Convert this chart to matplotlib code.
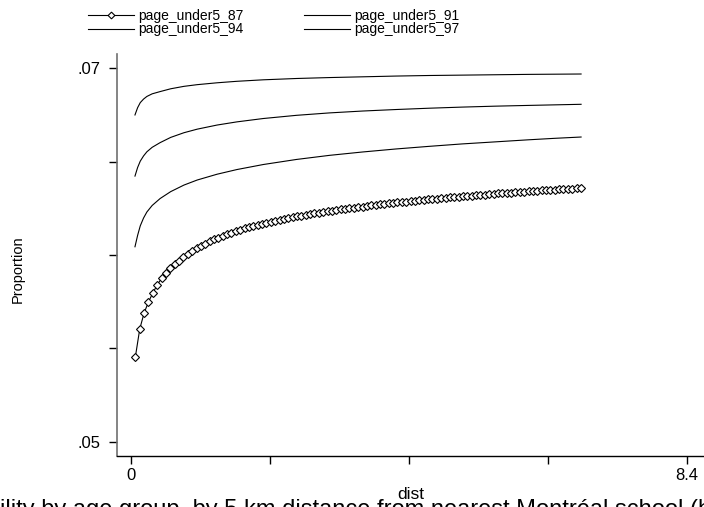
import matplotlib
matplotlib.use("Agg")
import matplotlib.pyplot as plt

plt.rcParams['font.family'] = ['Liberation Sans', 'DejaVu Sans']

# ---------------- data ----------------
# dense distance grid (series with markers)
dist_87 = [0.066, 0.132, 0.198, 0.264, 0.330, 0.396, 0.462, 0.528, 0.594, 0.660,
           0.726, 0.792, 0.858, 0.924, 0.990, 1.056, 1.122, 1.188, 1.254, 1.320,
           1.386, 1.452, 1.518, 1.584, 1.650, 1.716, 1.782, 1.848, 1.914, 1.980,
           2.046, 2.112, 2.178, 2.244, 2.310, 2.376, 2.442, 2.508, 2.574, 2.640,
           2.706, 2.772, 2.838, 2.904, 2.970, 3.036, 3.102, 3.168, 3.234, 3.300,
           3.366, 3.432, 3.498, 3.564, 3.630, 3.696, 3.762, 3.828, 3.894, 3.960,
           4.026, 4.092, 4.158, 4.224, 4.290, 4.356, 4.422, 4.488, 4.554, 4.620,
           4.686, 4.752, 4.818, 4.884, 4.950, 5.016, 5.082, 5.148, 5.214, 5.280,
           5.346, 5.412, 5.478, 5.544, 5.610, 5.676, 5.742, 5.808, 5.874, 5.940,
           6.006, 6.072, 6.138, 6.204, 6.270, 6.336, 6.402, 6.468, 6.534, 6.600,
           6.666, 6.732, 6.798]
page_under5_87 = [0.05455, 0.05604, 0.05690, 0.05749, 0.05797, 0.05840, 0.05875, 0.05903, 0.05928, 0.05950,
                  0.05970, 0.05988, 0.06005, 0.06020, 0.06035, 0.06048, 0.06061, 0.06073, 0.06083, 0.06093,
                  0.06102, 0.06111, 0.06120, 0.06128, 0.06136, 0.06143, 0.06149, 0.06155, 0.06161, 0.06167,
                  0.06172, 0.06178, 0.06183, 0.06187, 0.06192, 0.06197, 0.06201, 0.06206, 0.06210, 0.06214,
                  0.06218, 0.06222, 0.06226, 0.06230, 0.06234, 0.06237, 0.06240, 0.06244, 0.06247, 0.06250,
                  0.06253, 0.06256, 0.06259, 0.06262, 0.06265, 0.06268, 0.06271, 0.06274, 0.06277, 0.06279,
                  0.06281, 0.06284, 0.06286, 0.06289, 0.06291, 0.06293, 0.06296, 0.06298, 0.06300, 0.06302,
                  0.06304, 0.06306, 0.06308, 0.06310, 0.06312, 0.06314, 0.06316, 0.06318, 0.06320, 0.06322,
                  0.06323, 0.06325, 0.06327, 0.06329, 0.06330, 0.06332, 0.06334, 0.06335, 0.06337, 0.06339,
                  0.06340, 0.06342, 0.06343, 0.06345, 0.06346, 0.06348, 0.06349, 0.06351, 0.06352, 0.06353,
                  0.06355, 0.06356, 0.06358]

# coarser grid for the plain-line series
dist_lines = [0.06, 0.10, 0.14, 0.19, 0.24, 0.32, 0.44, 0.60, 0.80, 1.00, 1.30, 1.60,
              2.00, 2.50, 3.00, 3.50, 4.00, 4.50, 5.00, 5.50, 6.00, 6.40, 6.80]
page_under5_91 = [0.06044, 0.06105, 0.06156, 0.06198, 0.06230, 0.06265, 0.06302, 0.06339,
                  0.06374, 0.06401, 0.06432, 0.06457, 0.06484, 0.06511, 0.06533, 0.06551,
                  0.06567, 0.06581, 0.06594, 0.06605, 0.06616, 0.06624, 0.06631]
page_under5_94 = [0.06422, 0.06468, 0.06502, 0.06530, 0.06552, 0.06576, 0.06601, 0.06629,
                  0.06654, 0.06673, 0.06695, 0.06712, 0.06730, 0.06747, 0.06760, 0.06770,
                  0.06778, 0.06785, 0.06791, 0.06796, 0.06800, 0.06803, 0.06806]
page_under5_97 = [0.06749, 0.06788, 0.06815, 0.06834, 0.06848, 0.06862, 0.06874, 0.06889,
                  0.06902, 0.06911, 0.06921, 0.06929, 0.06937, 0.06944, 0.06949, 0.06953,
                  0.06957, 0.06960, 0.06962, 0.06964, 0.06966, 0.06967, 0.06968]

x_ticks = [0, 2.1, 4.2, 6.3, 8.4]
x_ticklabels = ["0", "", "", "", "8.4"]
y_ticks = [0.05, 0.055, 0.06, 0.065, 0.07]
y_ticklabels = [".05", "", "", "", ".07"]

# ---------------- figure ----------------
fig = plt.figure(figsize=(7.04, 5.07), dpi=100)
ax = fig.add_axes([117/704, 51/507, 587/704, 402/507])

h87, = ax.plot(dist_87, page_under5_87, color='black', lw=0.8, marker='D',
               markersize=3.8, markerfacecolor='white', markeredgecolor='black',
               markeredgewidth=0.8, label='page_under5_87')
h91, = ax.plot(dist_lines, page_under5_91, color='black', lw=0.8, label='page_under5_91')
h94, = ax.plot(dist_lines, page_under5_94, color='black', lw=0.8, label='page_under5_94')
h97, = ax.plot(dist_lines, page_under5_97, color='black', lw=0.8, label='page_under5_97')

ax.set_xlim(-0.2115, 8.657)
ax.set_ylim(0.04925, 0.07075)

ax.set_xticks(x_ticks)
ax.set_xticklabels(x_ticklabels)
ax.set_yticks(y_ticks)
ax.set_yticklabels(y_ticklabels)

for s in ['top', 'right']:
    ax.spines[s].set_visible(False)
ax.spines['left'].set_color('#707070')
ax.spines['left'].set_linewidth(1.2)
ax.spines['bottom'].set_color('black')
ax.spines['bottom'].set_linewidth(1.0)

ax.tick_params(axis='x', direction='out', length=6, width=1.0, pad=2.5,
               labelsize=12, colors='black')
ax.tick_params(axis='y', direction='out', length=6, width=1.0, pad=6,
               labelsize=12, colors='black')

ax.set_xlabel('dist', fontsize=12.5, labelpad=3)
ax.set_ylabel('Proportion', fontsize=10.5)
ax.yaxis.set_label_coords(-0.157, 0.465)

fig.legend(handles=[h87, h94, h91, h97],
           labels=['page_under5_87', 'page_under5_94', 'page_under5_91', 'page_under5_97'],
           ncol=2, loc='upper left', bbox_to_anchor=(78/704, 1 + 1/507),
           frameon=False, fontsize=10, handlelength=3.3, handletextpad=0.3,
           columnspacing=4.4, labelspacing=-0.02, borderpad=0.2, markerscale=0.9)

# clipped caption at the very bottom of the image
fig.text(-0.108, -9/507, 'Probability by age group, by 5 km distance from nearest Montréal school (b',
         fontsize=17, va='baseline', ha='left')

fig.savefig('out.png', dpi=100)
